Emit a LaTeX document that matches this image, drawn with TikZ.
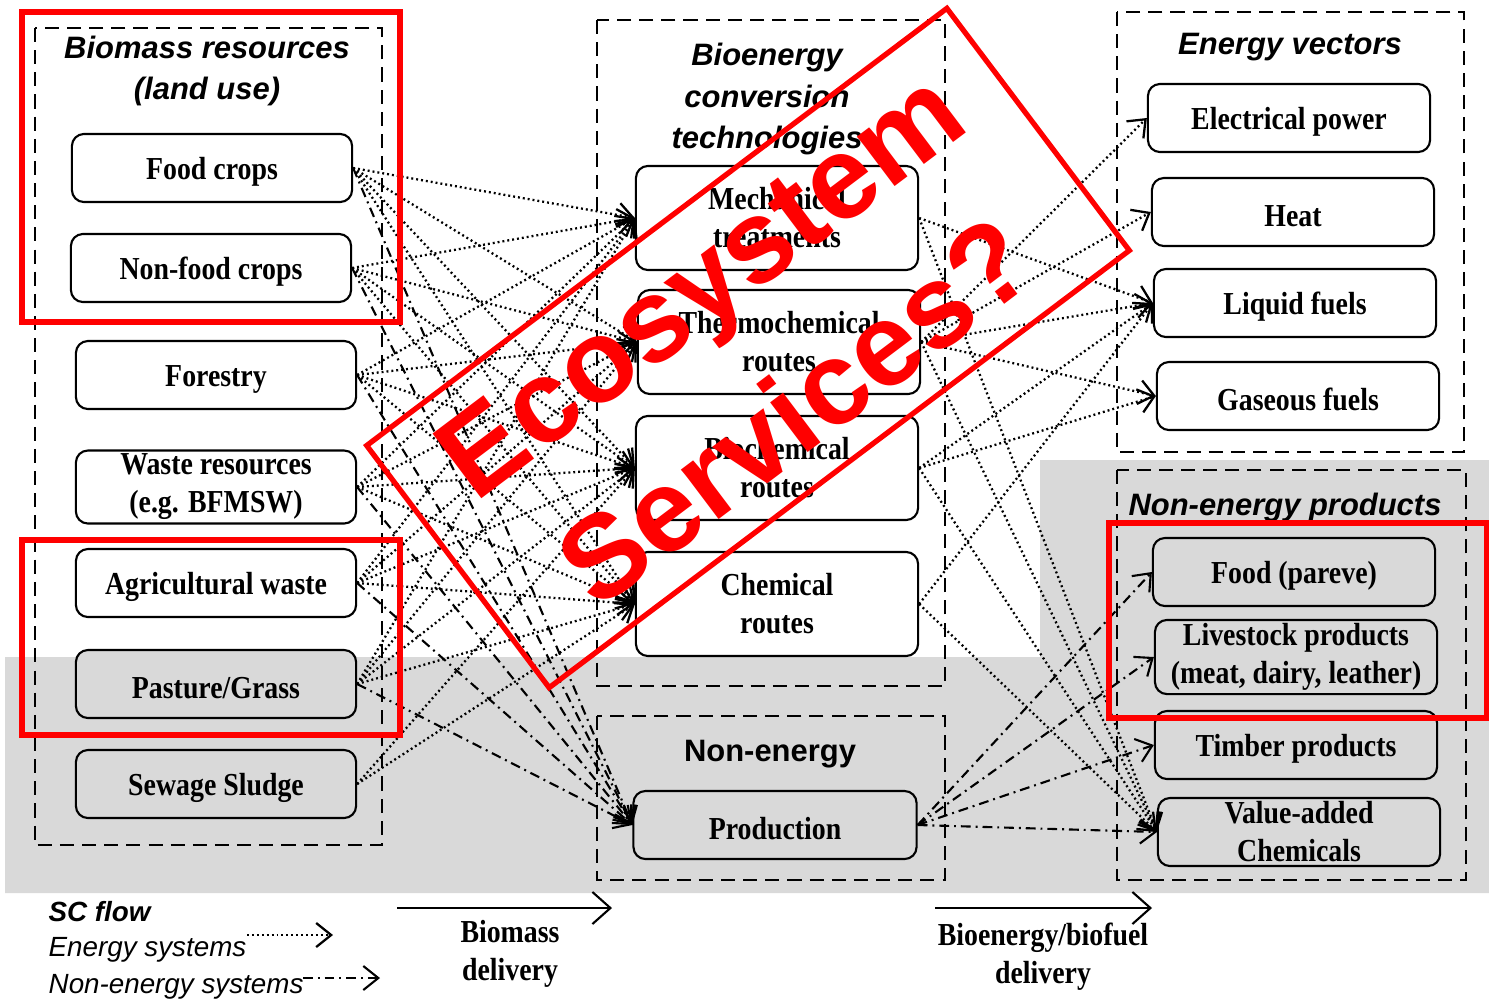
\documentclass[tikz,border=0pt]{standalone}
\usepackage{fontspec}
\setmainfont{Liberation Serif}
\setsansfont{Liberation Sans}
\newfontfamily\boxfont[FakeStretch=0.87]{Liberation Serif}
\usetikzlibrary{arrows.meta}

\definecolor{bggray}{RGB}{217,217,217}
\definecolor{markred}{RGB}{255,0,0}

\tikzset{
  item/.style={draw, rounded corners=1.2mm, line width=0.6pt, fill=white, minimum width=2.8cm, minimum height=0.68cm, align=center, inner sep=1pt, font=\boxfont\bfseries\fontsize{9.1}{10.8}\selectfont, execute at begin node={\rule{0pt}{8.6pt}}},
  grayitem/.style={item, fill=bggray},
  convitem/.style={item, minimum width=2.82cm, minimum height=1.04cm},
  dashframe/.style={draw, line width=0.6pt, dash pattern=on 4pt off 2.3pt},
  heading/.style={font=\sffamily\bfseries\itshape\fontsize{8.8}{11.7}\selectfont, align=center},
  energy/.style={line width=0.65pt, dash pattern=on 0.55pt off 0.85pt, -{Straight Barb[length=1.5mm,width=2.4mm]}},
  nonenergy/.style={line width=0.6pt, dash pattern=on 2.8pt off 1.4pt on 0.55pt off 1.4pt, -{Straight Barb[length=1.5mm,width=2.4mm]}},
  delivery/.style={line width=0.6pt, -{Straight Barb[length=1.8mm,width=3.2mm]}},
  legtext/.style={anchor=west, inner sep=0pt, font=\sffamily\itshape\fontsize{7.9}{10}\selectfont},
  redmark/.style={draw=markred, line width=1.5pt},
}

\begin{document}
\begin{tikzpicture}[x=0.01cm,y=-0.01cm]
\useasboundingbox (0,0) rectangle (1489,1003);

\fill[bggray] (5,657) -- (1040,657) -- (1040,460) -- (1489,460) -- (1489,893) -- (5,893) -- cycle;

\draw[dashframe] (35,28) rectangle (382,845);
\draw[dashframe] (597,20) rectangle (945,686);
\draw[dashframe] (597,716) rectangle (945,880);
\draw[dashframe] (1117,12) rectangle (1464,452);
\draw[dashframe] (1117,470) rectangle (1466,880);

\node[heading] (restitle) at (207,71) {Biomass resources\\(land use)};
\node[heading] (convtitle) at (767,99) {Bioenergy\\conversion\\technologies};
\node[heading, font=\sffamily\bfseries\fontsize{8.8}{11.7}\selectfont] (netitle) at (770,754) {Non-energy};
\node[heading] (evtitle) at (1290,47) {Energy vectors};
\node[heading] (neptitle) at (1285,507) {Non-energy products};

\node[item] (food) at (212,168) {Food crops};
\node[item] (nonfood) at (211,268) {Non-food crops};
\node[item] (forest) at (216,375) {Forestry};
\node[item] (waste) at (216,487) {Waste resources\\(e.g. BFMSW)};
\node[item] (agri) at (216,583) {Agricultural waste};
\node[grayitem] (pasture) at (216,684) {Pasture/Grass};
\node[grayitem] (sewage) at (216,784) {Sewage Sludge};

\node[convitem] (mech) at (777,218) {Mechanical\\treatments};
\node[convitem] (thermo) at (779,342) {Thermochemical\\routes};
\node[convitem] (bio) at (777,468) {Biochemical\\routes};
\node[convitem] (chem) at (777,604) {Chemical\\routes};
\node[grayitem, minimum width=2.83cm] (prod) at (775,825) {Production};

\node[item, minimum width=2.82cm] (elec) at (1289,118) {Electrical power};
\node[item, minimum width=2.82cm] (heat) at (1293,212) {Heat};
\node[item, minimum width=2.82cm] (liquid) at (1295,303) {Liquid fuels};
\node[item, minimum width=2.82cm] (gas) at (1298,396) {Gaseous fuels};
\node[grayitem, minimum width=2.82cm] (foodp) at (1294,572) {Food (pareve)};
\node[grayitem, minimum width=2.82cm] (livestock) at (1296,657) {Livestock products\\(meat, dairy, leather)};
\node[grayitem, minimum width=2.82cm] (timber) at (1296,745) {Timber products};
\node[grayitem, minimum width=2.82cm] (chemva) at (1299,832) {Value-added\\Chemicals};

\foreach \s in {food,nonfood,forest,waste,agri,pasture}
  \foreach \t in {mech,thermo,bio,chem}
    \draw[energy] (\s.east) -- (\t.west);
\foreach \t in {bio,chem}
  \draw[energy] (sewage.east) -- (\t.west);
\foreach \s in {food,nonfood,forest,waste,agri,pasture}
  \draw[nonenergy] (\s.east) -- (prod.west);

\foreach \s/\t in {mech/liquid,thermo/elec,thermo/heat,thermo/liquid,thermo/gas,bio/liquid,bio/gas,chem/liquid,mech/chemva,thermo/chemva,bio/chemva,chem/chemva}
  \draw[energy] (\s.east) -- (\t.west);
\foreach \t in {foodp,livestock,timber,chemva}
  \draw[nonenergy] (prod.east) -- (\t.west);

\node[legtext, font=\sffamily\bfseries\itshape\fontsize{7.9}{10}\selectfont] (sclabel) at (48,912) {SC flow};
\node[legtext] (enlabel) at (48,950) {Energy systems};
\node[legtext] (nelabel) at (48,987) {Non-energy systems};
\coordinate (ensa) at (247,935);
\coordinate (ensb) at (333,935);
\coordinate (nesa) at (303,978);
\coordinate (nesb) at (380,978);
\draw[energy] (ensa) -- (ensb);
\draw[nonenergy] (nesa) -- (nesb);

\coordinate (bma) at (397,908);
\coordinate (bmb) at (612,908);
\coordinate (bea) at (935,908);
\coordinate (beb) at (1152,908);
\draw[delivery] (bma) -- (bmb);
\draw[delivery] (bea) -- (beb);
\node[align=center, font=\boxfont\bfseries\fontsize{9.1}{10.8}\selectfont] (bmlabel) at (510,954) {Biomass\\delivery};
\node[align=center, font=\boxfont\bfseries\fontsize{9.1}{10.8}\selectfont] (belabel) at (1043,957) {Bioenergy/biofuel\\delivery};

\draw[redmark] (22,12) rectangle (400,322);
\draw[redmark] (22,540) rectangle (400,735);
\draw[redmark] (1109,523) rectangle (1487,718);
\node[redmark, rotate=37, minimum width=7.26cm, minimum height=3.03cm, inner sep=0pt] (ecoframe) at (748,348) {};
\node[rotate=37, text=markred, align=center, inner sep=0pt, font=\sffamily\bfseries\fontsize{33.5}{45.5}\selectfont] (ecotext) at (ecoframe.center) {Ecosystem\\Services?};
\end{tikzpicture}
\end{document}
